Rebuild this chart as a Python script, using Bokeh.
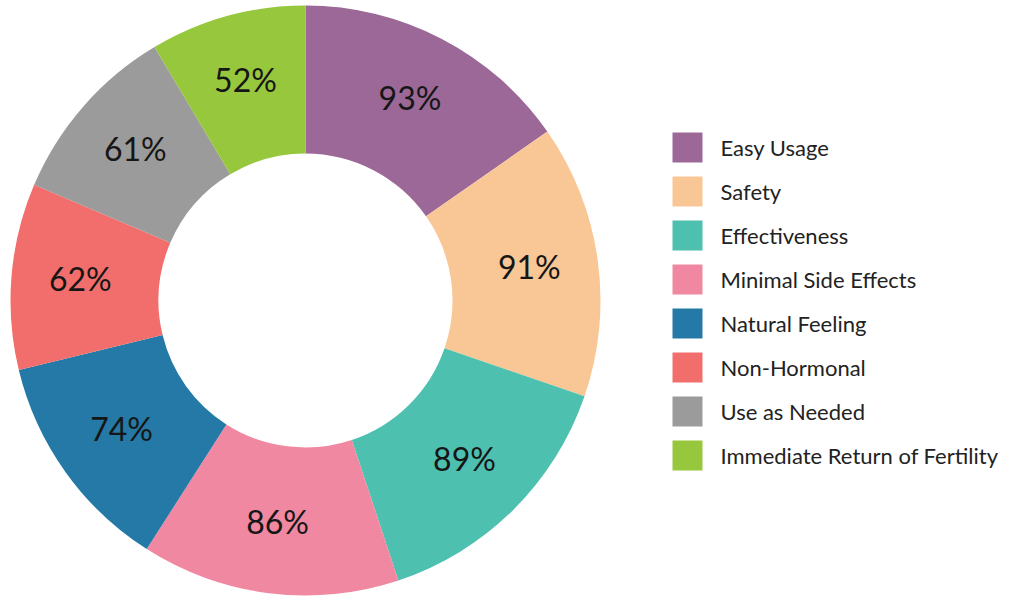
import math
from bokeh.plotting import figure
from bokeh.models import Range1d, ColumnDataSource
from bokeh.core.properties import value
from bokeh.embed import file_html
from bokeh.resources import INLINE

categories = ["Easy Usage", "Safety", "Effectiveness", "Minimal Side Effects",
              "Natural Feeling", "Non-Hormonal", "Use as Needed",
              "Immediate Return of Fertility"]
values = [93, 91, 89, 86, 74, 62, 61, 52]
colors = ["#9C6897", "#F9C796", "#4EC0B0", "#F088A2",
          "#2479A6", "#F26E6C", "#9B9B9B", "#97C73D"]
labels = [f"{v}%" for v in values]

W, H = 1008, 596
p = figure(width=W, height=H, output_backend="svg", toolbar_location=None,
           x_range=Range1d(0, W), y_range=Range1d(0, H),
           x_axis_location=None, y_axis_location=None, min_border=0)
p.grid.visible = False
p.outline_line_color = None
p.background_fill_color = "white"

cx, cy = 305, H - 300
r_out, r_in = 295, 147
total = sum(values)
starts, ends, lx, ly = [], [], [], []
cum = 0
for v in values:
    a0 = math.pi / 2 - cum / total * 2 * math.pi
    cum += v
    a1 = math.pi / 2 - cum / total * 2 * math.pi
    starts.append(a0)
    ends.append(a1)
    mid = (a0 + a1) / 2
    lx.append(cx + 226 * math.cos(mid))
    ly.append(cy + 226 * math.sin(mid) + 3)

src = ColumnDataSource(dict(start=starts, end=ends, color=colors,
                            lx=lx, ly=ly, label=labels))
p.annular_wedge(x=cx, y=cy, inner_radius=r_in, outer_radius=r_out,
                start_angle="start", end_angle="end", direction="clock",
                fill_color="color", line_color=None, source=src)
p.text(x="lx", y="ly", text="label", source=src, text_align="center",
       text_baseline="middle", text_font=value("Lato"), text_font_size="32px",
       text_color="#161616")

# legend
leg_y = [H - 147 - 44 * i for i in range(len(categories))]
leg = ColumnDataSource(dict(y=leg_y, color=colors, name=categories))
p.rect(x=687, y="y", width=30, height=30, fill_color="color", line_color=None,
       source=leg)
p.text(x=720, y="y", text="name", source=leg, text_align="left",
       text_baseline="middle", text_font=value("Lato"), text_font_size="22px",
       text_color="#222222")

open("out.html", "w").write(file_html(p, INLINE))
